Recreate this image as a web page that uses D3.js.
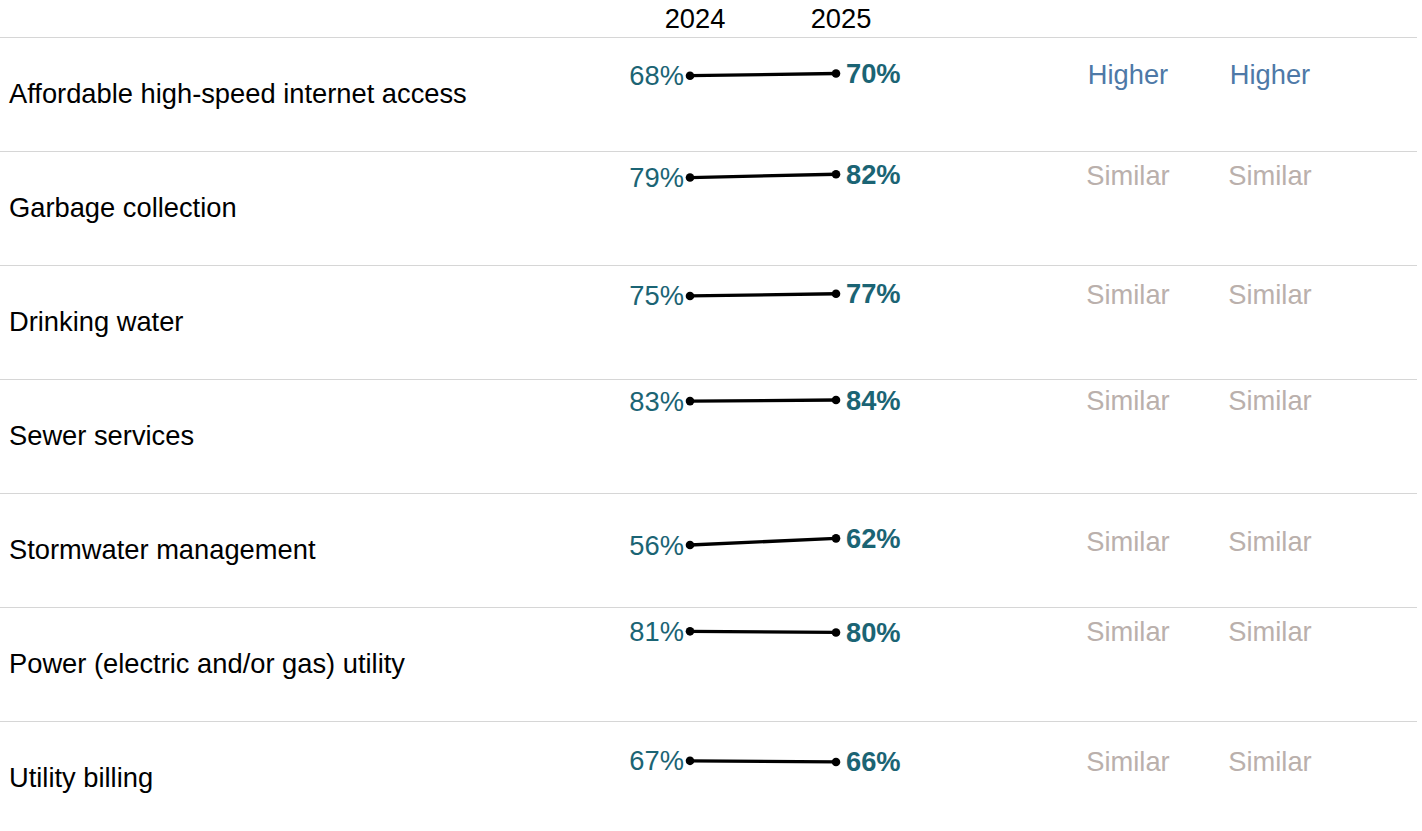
<!DOCTYPE html>
<html>
<head>
<meta charset="utf-8">
<script src="https://cdn.jsdelivr.net/npm/d3@7"></script>
<style>
  body { margin: 0; background: #fff; }
  text { font-family: "Liberation Sans", Arial, sans-serif; font-size: 27.3px; }
</style>
</head>
<body>
<script>
// Data
const categories = [
    "Affordable high-speed internet access",
    "Garbage collection",
    "Drinking water",
    "Sewer services",
    "Stormwater management",
    "Power (electric and/or gas) utility",
    "Utility billing"
];
const years = ["2024", "2025"];
const values2024 = [68, 79, 75, 83, 56, 81, 67];
const values2025 = [70, 82, 77, 84, 62, 80, 66];
const compareA = ["Higher", "Similar", "Similar", "Similar", "Similar", "Similar", "Similar"];
const compareB = ["Higher", "Similar", "Similar", "Similar", "Similar", "Similar", "Similar"];

// Dimensions
const width = 1422;
const height = 831;
const tableTop = 37;
const rowHeight = 114;

const svg = d3.select("body")
    .append("svg")
    .attr("width", width)
    .attr("height", height);

// Scales
const row = d3.scaleBand()
    .domain(categories)
    .range([tableTop, tableTop + rowHeight * categories.length]);

const x = d3.scalePoint()
    .domain(years)
    .range([690, 836]);

const y = d3.scaleLinear()
    .domain([0, 100])
    .range([rowHeight, 3.3]);

const compareX = d3.scalePoint()
    .domain(["a", "b"])
    .range([1128, 1270]);

const statusColor = d3.scaleOrdinal()
    .domain(["Higher", "Similar", "Lower"])
    .range(["#4e79a7", "#bab0ac", "#e15759"]);

const teal = "#1b6474";

// Header
svg.selectAll(".year")
    .data(years)
    .enter().append("text")
    .attr("class", "year")
    .attr("x", d => x(d) + 5)
    .attr("y", 28)
    .attr("text-anchor", "middle")
    .attr("fill", "#000")
    .text(d => d);

const rows = svg.selectAll(".row")
    .data(categories.map((c, i) => ({
        name: c, a: values2024[i], b: values2025[i], ca: compareA[i], cb: compareB[i]
    })))
    .enter().append("g")
    .attr("class", "row")
    .attr("transform", d => `translate(0,${row(d.name)})`);

// Separator lines
rows.append("line")
    .attr("x1", 0)
    .attr("x2", 1417)
    .attr("y1", 0.5)
    .attr("y2", 0.5)
    .attr("stroke", "#d6d6d6")
    .attr("stroke-width", 1.2);

// Row labels
rows.append("text")
    .attr("x", 9)
    .attr("y", rowHeight / 2 - 1)
    .attr("dominant-baseline", "central")
    .attr("fill", "#000")
    .text(d => d.name);

// Slope lines
rows.append("line")
    .attr("x1", x("2024"))
    .attr("x2", x("2025"))
    .attr("y1", d => y(d.a))
    .attr("y2", d => y(d.b))
    .attr("stroke", "#000")
    .attr("stroke-width", 3.3);

rows.append("circle")
    .attr("cx", x("2024"))
    .attr("cy", d => y(d.a))
    .attr("r", 4.3)
    .attr("fill", "#000");

rows.append("circle")
    .attr("cx", x("2025"))
    .attr("cy", d => y(d.b))
    .attr("r", 4.3)
    .attr("fill", "#000");

// Value labels
rows.append("text")
    .attr("x", x("2024") - 6)
    .attr("y", d => y(d.a))
    .attr("text-anchor", "end")
    .attr("dominant-baseline", "central")
    .attr("fill", teal)
    .text(d => d.a + "%");

rows.append("text")
    .attr("x", x("2025") + 10)
    .attr("y", d => y(d.b))
    .attr("dominant-baseline", "central")
    .attr("font-weight", "bold")
    .attr("fill", teal)
    .text(d => d.b + "%");

// Comparison columns
rows.append("text")
    .attr("x", compareX("a"))
    .attr("y", d => (y(d.a) + y(d.b)) / 2)
    .attr("text-anchor", "middle")
    .attr("dominant-baseline", "central")
    .attr("fill", d => statusColor(d.ca))
    .text(d => d.ca);

rows.append("text")
    .attr("x", compareX("b"))
    .attr("y", d => (y(d.a) + y(d.b)) / 2)
    .attr("text-anchor", "middle")
    .attr("dominant-baseline", "central")
    .attr("fill", d => statusColor(d.cb))
    .text(d => d.cb);
</script>
</body>
</html>
